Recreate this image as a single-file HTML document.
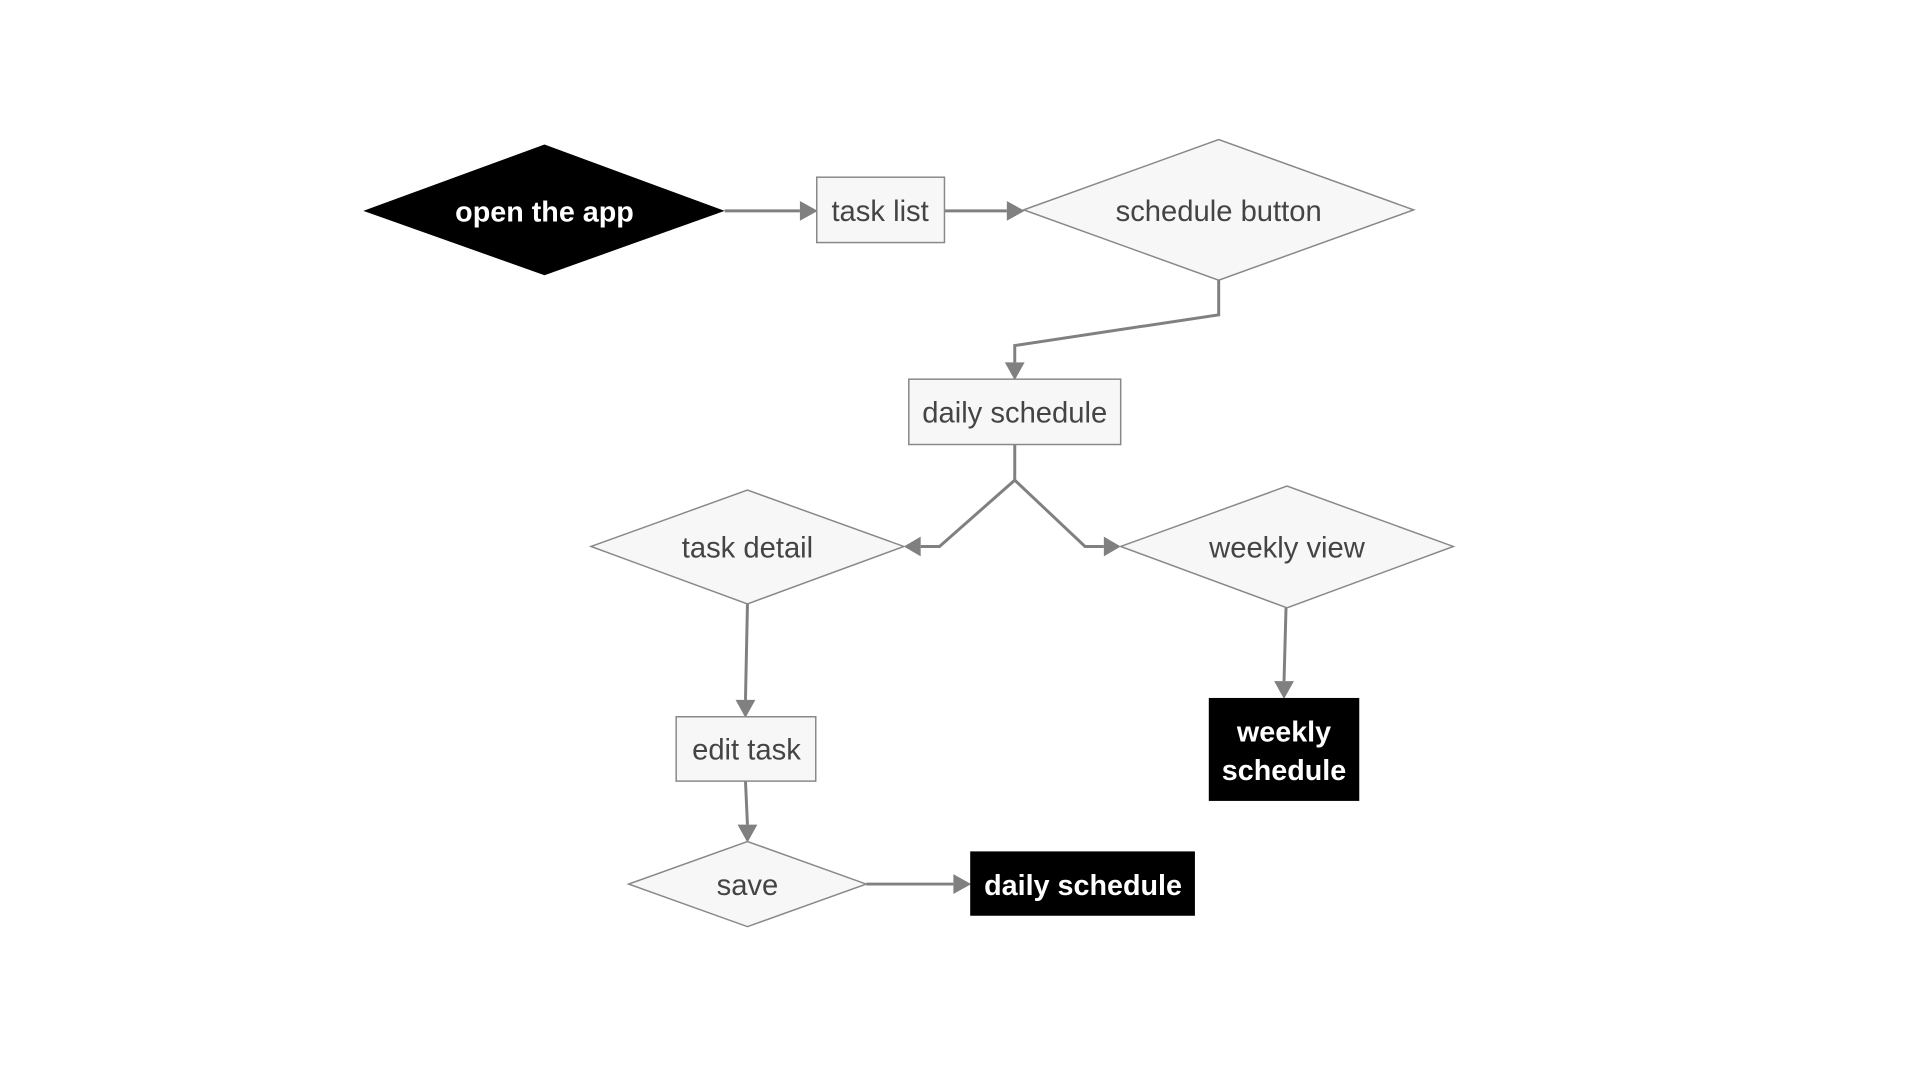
<!DOCTYPE html>
<html><head><meta charset="utf-8"><style>body{margin:0;background:#fff}svg{display:block}</style></head>
<body>
<svg width="1920" height="1080" viewBox="0 0 1920 1080" xmlns="http://www.w3.org/2000/svg" font-family="Liberation Sans, sans-serif">
<g transform="scale(0.99)">
<g fill="none" stroke="#808080" stroke-width="3">
<path d="M732,213 L808,213"/><path d="M954,213 L1017,213"/>
<path d="M1231,283 L1231,318 L1025,349 L1025,366"/>
<path d="M1025,449 L1025,485 L949,552 L930,552"/>
<path d="M1025,485 L1096,552 L1115,552"/>
<path d="M755,610 L753,707"/><path d="M753,789 L755,833"/>
<path d="M875,893 L963,893"/><path d="M1299,614 L1297,688"/>
</g>
<g fill="#808080">
<path d="M826,213 L808,203 L808,223z"/><path d="M1035,213 L1017,203 L1017,223z"/>
<path d="M1025,384 L1015,366 L1035,366z"/>
<path d="M913,552 L930,542 L930,562z"/><path d="M1132,552 L1115,542 L1115,562z"/>
<path d="M753,725 L743,707 L763,707z"/><path d="M755,851 L745,833 L765,833z"/>
<path d="M981,893 L963,883 L963,903z"/><path d="M1297,706 L1287,688 L1307,688z"/>
</g>
<g stroke="#888" stroke-width="1.5" fill="#f7f7f7">
<rect x="825" y="179" width="129" height="66"/>
<polygon points="1034,212 1231,141 1428,212 1231,283"/>
<rect x="918" y="383" width="214" height="66"/>
<polygon points="597,552 755,495 913,552 755,610"/>
<polygon points="1132,552 1300,491 1468,552 1300,614"/>
<rect x="683" y="724" width="141" height="65"/>
<polygon points="635,893 755,850 875,893 755,936"/>
</g>
<polygon points="367,213 550,146 732,213 550,278" fill="#000"/>
<rect x="980" y="860" width="227" height="65" fill="#000"/>
<rect x="1221" y="705" width="152" height="104" fill="#000"/>
<g font-size="29.5" fill="#444" text-anchor="middle">
<text x="889" y="223">task list</text>
<text x="1231" y="223">schedule button</text>
<text x="1025" y="427">daily schedule</text>
<text x="755" y="563">task detail</text>
<text x="1300" y="563">weekly view</text>
<text x="754" y="767">edit task</text>
<text x="755" y="904">save</text>
</g>
<g font-size="29" font-weight="bold" fill="#fff" text-anchor="middle">
<text x="550" y="224">open the app</text>
<text x="1094" y="904">daily schedule</text>
<text x="1297" y="749">weekly</text>
<text x="1297" y="788">schedule</text>
</g>
</g>
</svg>
</body></html>
